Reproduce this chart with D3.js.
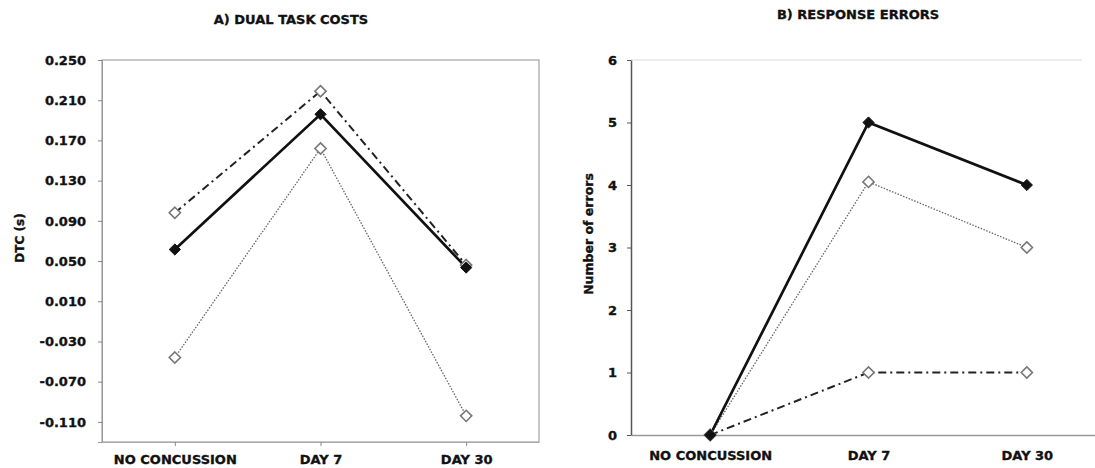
<!DOCTYPE html>
<html>
<head>
<meta charset="utf-8">
<script src="https://cdn.jsdelivr.net/npm/d3@7"></script>
<style>
  body { margin: 0; background: #fff; }
  svg text { font-family: "DejaVu Sans", sans-serif; font-weight: bold; fill: #111; stroke: #111; stroke-width: 0.35px; }
</style>
</head>
<body>
<div id="chart"></div>
<script>
// categories shared by both panels
var categories = ["NO CONCUSSION", "DAY 7", "DAY 30"];

// A) dual task costs (s)
var dtcSolid   = [0.0615, 0.196, 0.0435];
var dtcDashDot = [0.098, 0.219, 0.046];
var dtcDotted  = [-0.046, 0.162, -0.104];
var dtcTicks = [0.250, 0.210, 0.170, 0.130, 0.090, 0.050, 0.010, -0.030, -0.070, -0.110];
var dtcTickLabels = ["0.250", "0.210", "0.170", "0.130", "0.090", "0.050", "0.010", "-0.030", "-0.070", "-0.110"];

// B) response errors
var errSolid   = [0, 5, 4];
var errDotted  = [0, 4.05, 3];
var errDashDot = [0, 1, 1];
var errTicks = [0, 1, 2, 3, 4, 5, 6];
var errTickLabels = ["0", "1", "2", "3", "4", "5", "6"];

var width = 1095, height = 468;

var svg = d3.select("#chart").append("svg")
  .attr("width", width)
  .attr("height", height);

var diamond = d3.symbol().type(d3.symbolDiamond2).size(80);

function drawSeries(g, x, y, values, style) {
  var line = d3.line()
    .x(function(d, i) { return x(categories[i]); })
    .y(function(d) { return y(d); });
  var path = g.append("path")
    .datum(values)
    .attr("fill", "none")
    .attr("d", line);
  if (style == "solid") {
    path.attr("stroke", "#111").attr("stroke-width", 2.7);
  } else if (style == "dashdot") {
    path.attr("stroke", "#222").attr("stroke-width", 2).attr("stroke-dasharray", "8,4,2,4");
  } else {
    path.attr("stroke", "#666").attr("stroke-width", 1.3).attr("stroke-dasharray", "1.5,1.5");
  }
}

function drawMarkers(g, x, y, values, filled) {
  g.selectAll(null)
    .data(values)
    .enter().append("path")
    .attr("d", diamond)
    .attr("transform", function(d, i) { return "translate(" + x(categories[i]) + "," + y(d) + ")"; })
    .attr("fill", filled ? "#111" : "#fff")
    .attr("stroke", filled ? "#111" : "#777")
    .attr("stroke-width", filled ? 1 : 1.6);
}

// ---------- Panel A ----------
var a = { left: 102, right: 539, top: 60, bottom: 442 };

var xA = d3.scalePoint().domain(categories).range([a.left, a.right]).padding(0.5);
var yA = d3.scaleLinear().domain([-0.13, 0.25]).range([a.bottom, a.top]);

var gA = svg.append("g");

// frame
gA.append("rect")
  .attr("x", a.left).attr("y", a.top)
  .attr("width", a.right - a.left).attr("height", a.bottom - a.top)
  .attr("fill", "none").attr("stroke", "#aaa").attr("stroke-width", 1.3);

var yAxisA = gA.append("g")
  .attr("transform", "translate(" + a.left + ",0)")
  .call(d3.axisLeft(yA).tickValues(dtcTicks).tickSize(4).tickPadding(12)
        .tickFormat(function(d, i) { return dtcTickLabels[i]; }));
yAxisA.select(".domain").attr("stroke", "#999");
yAxisA.selectAll(".tick line").attr("stroke", "#888");
yAxisA.selectAll("text").style("font-size", "13px").attr("fill", "#111");

var xAxisA = gA.append("g")
  .attr("transform", "translate(0," + a.bottom + ")")
  .call(d3.axisBottom(xA).tickSize(4).tickPadding(9).tickSizeOuter(0));
xAxisA.select(".domain").attr("stroke", "#aaa");
xAxisA.selectAll(".tick line").attr("stroke", "#888");
xAxisA.selectAll("text").style("font-size", "13px").attr("fill", "#111");

drawSeries(gA, xA, yA, dtcDotted, "dotted");
drawSeries(gA, xA, yA, dtcDashDot, "dashdot");
drawSeries(gA, xA, yA, dtcSolid, "solid");
drawMarkers(gA, xA, yA, dtcDotted, false);
drawMarkers(gA, xA, yA, dtcDashDot, false);
drawMarkers(gA, xA, yA, dtcSolid, true);

svg.append("text")
  .attr("x", 291).attr("y", 24)
  .attr("text-anchor", "middle")
  .style("font-size", "13px")
  .text("A) DUAL TASK COSTS");

svg.append("text")
  .attr("transform", "translate(24,238) rotate(-90)")
  .attr("text-anchor", "middle")
  .style("font-size", "12px")
  .text("DTC (s)");

// ---------- Panel B ----------
var b = { left: 631, right: 1106, top: 60, bottom: 435 };

var xB = d3.scalePoint().domain(categories).range([b.left, b.right]).padding(0.5);
var yB = d3.scaleLinear().domain([0, 6]).range([b.bottom, b.top]);

var gB = svg.append("g");

// faint top border
gB.append("line")
  .attr("x1", b.left).attr("x2", 1082)
  .attr("y1", b.top).attr("y2", b.top)
  .attr("stroke", "#e6e6e6").attr("stroke-width", 1.5);

var xAxisB = gB.append("g")
  .attr("transform", "translate(0," + b.bottom + ")")
  .call(d3.axisBottom(xB).tickSize(0).tickPadding(16).tickSizeOuter(0));
xAxisB.select(".domain").attr("stroke", "#999").attr("stroke-width", 1.3);
xAxisB.selectAll("text").style("font-size", "13px").attr("fill", "#111");

var yAxisB = gB.append("g")
  .attr("transform", "translate(" + b.left + ",0)")
  .call(d3.axisLeft(yB).tickValues(errTicks).tickSize(4).tickPadding(10).tickSizeOuter(0)
        .tickFormat(function(d, i) { return errTickLabels[i]; }));
yAxisB.select(".domain").attr("stroke", "#555").attr("stroke-width", 1.5);
yAxisB.selectAll(".tick line").attr("stroke", "#555");
yAxisB.selectAll("text").style("font-size", "13px").attr("fill", "#111");

drawSeries(gB, xB, yB, errDashDot, "dashdot");
drawSeries(gB, xB, yB, errDotted, "dotted");
drawSeries(gB, xB, yB, errSolid, "solid");
drawMarkers(gB, xB, yB, errDashDot, false);
drawMarkers(gB, xB, yB, errDotted, false);
drawMarkers(gB, xB, yB, errSolid, true);

svg.append("text")
  .attr("x", 858).attr("y", 19)
  .attr("text-anchor", "middle")
  .style("font-size", "13px")
  .text("B) RESPONSE ERRORS");

svg.append("text")
  .attr("transform", "translate(593,234) rotate(-90)")
  .attr("text-anchor", "middle")
  .style("font-size", "12.5px")
  .text("Number of errors");
</script>
</body>
</html>
